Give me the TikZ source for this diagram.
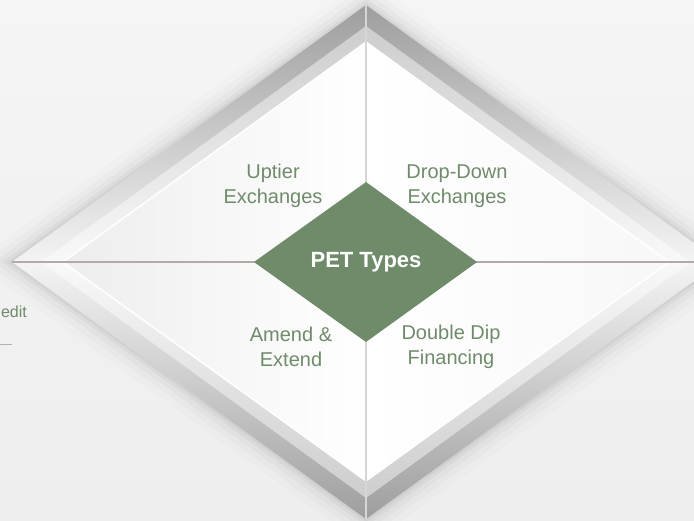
\documentclass[tikz,border=0pt]{standalone}
\usepackage{fontspec}
\setmainfont{Liberation Sans}
\usetikzlibrary{positioning}

\definecolor{petgreen}{HTML}{6F8B6A}
\definecolor{bevelDark}{HTML}{9E9E9E}
\definecolor{bevelMid}{HTML}{C8C8C8}
\definecolor{bevelLight}{HTML}{F4F4F4}
\definecolor{faceGray}{HTML}{EDEDED}
\definecolor{backGray}{HTML}{EEEEEE}
\definecolor{lineGray}{HTML}{B2AAA8}

\tikzset{
  type label/.style={text=petgreen, font=\fontsize{20}{25}\selectfont, align=center, inner sep=0pt},
  center label/.style={text=white, font=\fontsize{22}{26}\selectfont\bfseries, inner sep=0pt},
  divider/.style={line width=1.6pt, draw=#1},
}

\begin{document}
\begin{tikzpicture}[x=1pt, y=-1pt]
  \useasboundingbox (0,0) rectangle (694,520);
  \clip (0,0) rectangle (694,520);

  % background
  \shade[top color=backGray!60!white, bottom color=backGray] (0,0) rectangle (694,520);

  % corners of the frame
  \coordinate (c)  at (366,262);
  \coordinate (oT) at (366,5);
  \coordinate (oR) at (720,262);
  \coordinate (oB) at (366,519);
  \coordinate (oL) at (12,262);
  \coordinate (iT) at (366,42);
  \coordinate (iR) at (669,262);
  \coordinate (iB) at (366,481);
  \coordinate (iL) at (63,262);
  \coordinate (gT) at (366,182);
  \coordinate (gR) at (477,262);
  \coordinate (gB) at (366,342);
  \coordinate (gL) at (254,262);

  % soft shadow round the frame
  \foreach \d/\o in {28/0.012, 20/0.018, 13/0.024, 7/0.03, 3/0.04} {
    \fill[black, opacity=\o] (366,{5-\d}) -- ({720+1.38*\d},262) -- (366,{519+\d}) -- ({12-1.38*\d},262) -- cycle;
  }

  % bevels
  \shade[top color=bevelDark, middle color=bevelMid, bottom color=bevelLight] (oL) -- (oT) -- (iT) -- (iL) -- cycle;
  \shade[top color=bevelDark, middle color=bevelMid!90, bottom color=bevelLight] (oT) -- (oR) -- (iR) -- (iT) -- cycle;
  \shade[bottom color=bevelDark, middle color=bevelMid, top color=bevelLight] (oL) -- (oB) -- (iB) -- (iL) -- cycle;
  \shade[bottom color=bevelDark, middle color=bevelMid!90, top color=bevelLight] (oB) -- (oR) -- (iR) -- (iB) -- cycle;
  % lighter inner band of the bevels
  \fill[white, opacity=0.45, even odd rule]
    (366,26) -- (691,262) -- (366,498) -- (41,262) -- cycle
    (iT) -- (iR) -- (iB) -- (iL) -- cycle;

  % faces
  \shade[left color=faceGray, right color=white] (c) -- (iL) -- (iT) -- cycle;
  \shade[left color=faceGray, right color=white] (c) -- (iL) -- (iB) -- cycle;
  \shade[left color=white, right color=white!97!black] (c) -- (iR) -- (iT) -- cycle;
  \shade[left color=white, right color=white!97!black] (c) -- (iR) -- (iB) -- cycle;
  \draw[white, line width=1.5pt] (iL) -- (iT) -- (iR) -- (iB) -- cycle;

  % dividers
  \draw[divider=lineGray] (oL) -- (oR);
  \draw[divider=black!16, line width=1.2pt] (oT) -- (oB);

  % centre
  \fill[petgreen] (gT) -- (gR) -- (gB) -- (gL) -- cycle;
  \node[center label] (pet) at (c) {PET Types};

  % types
  \node[type label] (uptier)   at (273,186) {Uptier\\Exchanges};
  \node[type label] (dropdown) at (457,186) {Drop-Down\\Exchanges};
  \node[type label] (amend)    at (291,347) {Amend \&\\Extend};
  \node[type label] (doubledip) at (451,347) {Double Dip\\Financing};

  % cut-off text on the left
  \node[text=petgreen, font=\fontsize{16}{19}\selectfont, anchor=east, inner sep=0pt] (credit) at (27,312) {edit};
  \coordinate (ruleEnd) at (12,344);
  \draw[black!30, line width=0.8pt] (0,344) -- (ruleEnd);
\end{tikzpicture}
\end{document}
